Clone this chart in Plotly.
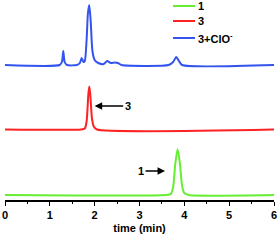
import plotly.graph_objects as go

# Chromatograms: retention time (min) and detector signal (a.u., above each baseline)
t_1 = [0, 3.60, 3.70, 3.75, 3.80, 3.85, 3.90, 3.95, 4.00, 4.10, 6]
s_1 = [0, 0, 1, 8, 32, 46, 32, 9, 2, 0, 0]

t_3 = [0, 1.70, 1.78, 1.82, 1.86, 1.88, 1.90, 1.94, 1.98, 2.05, 6]
s_3 = [0, 0, 1, 8, 36, 43, 36, 11, 3, 0, 0]

t_3clo = [0, 1.22, 1.27, 1.30, 1.33, 1.38, 1.60, 1.67, 1.71, 1.75, 1.78, 1.82,
          1.85, 1.88, 1.91, 1.95, 2.00, 2.08, 2.20, 2.28, 2.36, 2.45, 2.52, 2.60,
          3.65, 3.75, 3.82, 3.88, 3.95, 6]
s_3clo = [0, 0, 3, 14, 3, 0, 0, 2, 7, 3, 4, 25,
          52, 60, 45, 14, 5, 2, 1, 4, 2, 2.5, 2, 0,
          0, 3, 8, 4, 0, 0]

names = ["1", "3", "3+ClO<sup>-</sup>"]
offsets = [5, 70.5, 135]
colors = ["#66EE33", "#FF2222", "#3355EE"]
x_ticks = [0, 1, 2, 3, 4, 5, 6]

W, H = 279, 240
ML, MR, MT, MB = 5, 5, 0, 40

fig = go.Figure()
for t, s, name, off, col in zip([t_1, t_3, t_3clo], [s_1, s_3, s_3clo], names, offsets, colors):
    fig.add_trace(go.Scatter(x=t, y=[v + off for v in s], mode="lines", name=name,
                             showlegend=False, hoverinfo="skip",
                             line=dict(color=col, width=2, shape="spline", smoothing=0.6)))

# manual legend (paper coordinates computed from pixel positions)
pw, ph = W - ML - MR, H - MT - MB
def px(x):
    return (x - ML) / pw
def py(y):
    return 1 - (y - MT) / ph
leg_rows = [6, 21, 38]
for name, col, yr in zip(names, colors, leg_rows):
    fig.add_shape(type="line", xref="paper", yref="paper",
                  x0=px(173), x1=px(195), y0=py(yr), y1=py(yr),
                  line=dict(color=col, width=2))
    fig.add_annotation(xref="paper", yref="paper", x=px(196), y=py(yr),
                       xanchor="left", yanchor="middle", showarrow=False,
                       text=f"<b>{name}</b>",
                       font=dict(size=11, color="black", family="Liberation Sans"))

fig.add_annotation(x=2.0, y=94, ax=33, ay=0, text="<b>3</b>", showarrow=True,
                   arrowhead=2, arrowsize=1, arrowwidth=1.5, arrowcolor="black",
                   font=dict(size=11, color="black", family="Liberation Sans"))
fig.add_annotation(x=3.57, y=29, ax=-24, ay=0, text="<b>1</b>", showarrow=True,
                   arrowhead=2, arrowsize=1, arrowwidth=1.5, arrowcolor="black",
                   font=dict(size=11, color="black", family="Liberation Sans"))

fig.update_layout(
    width=W, height=H,
    margin=dict(l=ML, r=MR, t=MT, b=MB),
    paper_bgcolor="white", plot_bgcolor="white",
    font=dict(family="Liberation Sans", size=11, color="black"),
    showlegend=False,
    xaxis=dict(range=[0, 6], tickvals=x_ticks, ticktext=[f"<b>{v}</b>" for v in x_ticks],
               showline=True, linecolor="black", linewidth=1.5, showgrid=False, zeroline=False,
               ticks="outside", ticklen=4, tickwidth=1.2, tickcolor="black",
               minor=dict(dtick=0.5, ticks="outside", ticklen=2, tickwidth=1.2, tickcolor="black"),
               tickfont=dict(size=11), automargin=False,
               title=dict(text="<b>time (min)</b>", standoff=4, font=dict(size=11))),
    yaxis=dict(range=[0, 200], visible=False),
)

fig.write_html("out.html", config={"displayModeBar": False},
               post_script="document.body.style.margin='0';document.body.style.overflow='hidden';")
